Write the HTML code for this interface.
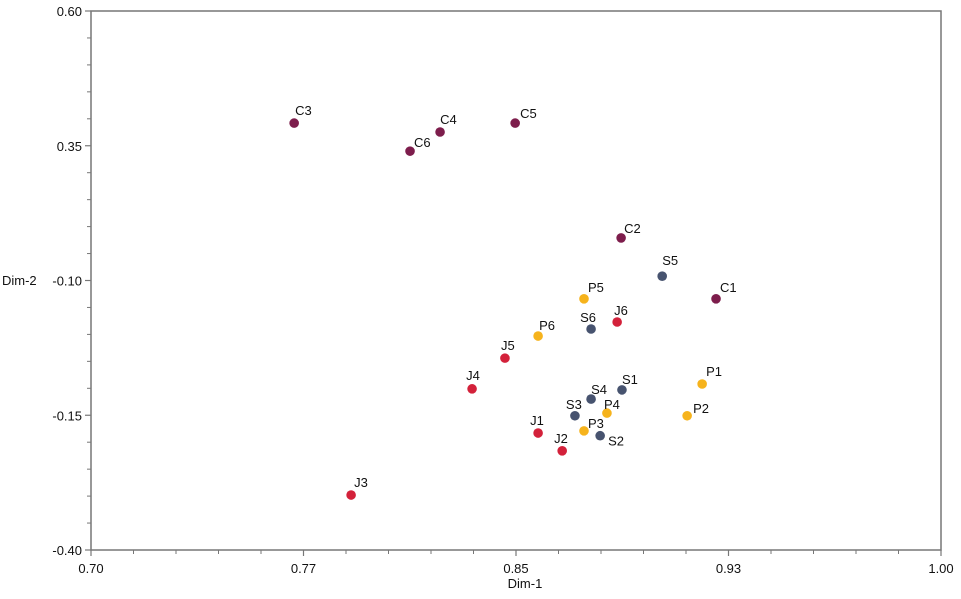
<!DOCTYPE html>
<html><head><meta charset="utf-8"><style>
body{margin:0;background:#fff;}
svg text{font-family:"Liberation Sans",sans-serif;}
</style></head><body>
<svg id="chart" width="961" height="594" viewBox="0 0 961 594" xmlns="http://www.w3.org/2000/svg">
<rect x="91" y="11" width="850" height="539" fill="none" stroke="#777" stroke-width="1.5"/>
<g id="axes"></g>
<g id="marks"></g>
<text x="525" y="588" font-size="13" text-anchor="middle" fill="#111">Dim-1</text>
<text x="2" y="285" font-size="13" fill="#111">Dim-2</text>
</svg>
<script>
const labels = ["C3","C4","C6","C5","C2","S5","C1","P5","J6","S6","P6","J5","J4","P1","S1","S4","P4","S3","P2","J1","P3","S2","J2","J3"];
const xVals = [0.7717,0.8232,0.8126,0.8497,0.8871,0.9016,0.9206,0.8740,0.8857,0.8765,0.8578,0.8461,0.8345,0.9157,0.8874,0.8765,0.8821,0.8708,0.9104,0.8578,0.8740,0.8797,0.8663,0.7918];
const yVals = [0.392,0.3755,0.340,0.392,0.179,0.108,0.066,0.066,0.023,0.010,-0.003,-0.044,-0.101,-0.092,-0.103,-0.120,-0.146,-0.151,-0.151,-0.183,-0.179,-0.188,-0.216,-0.298];
const xTickVals = [0.70,0.775,0.85,0.925,1.00];
const xTickLabels = ["0.70","0.77","0.85","0.93","1.00"];
const yTickVals = [-0.40,-0.15,0.10,0.35,0.60];
const yTickLabels = ["-0.40","-0.15","-0.10","0.35","0.60"];
const colors = {C:"#7d1d4c",J:"#d3213a",S:"#47536f",P:"#f6b31c"};
const lblOff = {C3:[1,-8],C4:[0,-8],C6:[4,-4],C5:[5,-5],C2:[3,-5],S5:[0,-11],C1:[4,-7],P5:[4,-7],J6:[-3,-7],S6:[-11,-7],P6:[1,-6],J5:[-4,-8],J4:[-6,-9],P1:[4,-8],S1:[0,-6],S4:[0,-5],P4:[-3,-4],S3:[-9,-7],P2:[6,-3],J1:[-8,-8],P3:[4,-3],S2:[8,10],J2:[-8,-8],J3:[3,-8]};
const X0=91,X1=941,Y0=550,Y1=11;
function sx(v){return X0+(v-0.70)/(0.30)*(X1-X0);}
function sy(v){return Y0-(v+0.40)/1.0*(Y0-Y1);}
const NS="http://www.w3.org/2000/svg";
const axes=document.getElementById('axes'), marks=document.getElementById('marks');
function mk(tag,attrs,parent){const e=document.createElementNS(NS,tag);for(const k in attrs)e.setAttribute(k,attrs[k]);parent.appendChild(e);return e;}
// x ticks
for(let i=0;i<xTickVals.length;i++){
  const x=sx(xTickVals[i]);
  const t=mk('line',{x1:x,x2:x,y1:Y0,y2:Y0+6,stroke:'#777','stroke-width':1.2},axes);
  
  
  const l=mk('text',{x:x,y:Y0+23,'font-size':13,'text-anchor':'middle',fill:'#111'},axes);
  l.textContent=xTickLabels[i];
  
  
  if(i<xTickVals.length-1){
    const step=(xTickVals[i+1]-xTickVals[i])/5;
    for(let j=1;j<5;j++){const mx=sx(xTickVals[i]+step*j);
      const m=mk('line',{x1:mx,x2:mx,y1:Y0,y2:Y0+4,stroke:'#777','stroke-width':1},axes);
      
      }
  }
}
for(let i=0;i<yTickVals.length;i++){
  const y=sy(yTickVals[i]);
  const t=mk('line',{x1:X0-6,x2:X0,y1:y,y2:y,stroke:'#777','stroke-width':1.2},axes);
  
  
  const l=mk('text',{x:X0-9,y:y+5,'font-size':13,'text-anchor':'end',fill:'#111'},axes);
  l.textContent=yTickLabels[i];
  
  
  if(i<yTickVals.length-1){
    const step=(yTickVals[i+1]-yTickVals[i])/5;
    for(let j=1;j<5;j++){const my=sy(yTickVals[i]+step*j);
      const m=mk('line',{x1:X0-4,x2:X0,y1:my,y2:my,stroke:'#777','stroke-width':1},axes);
      
      }
  }
}
for(let i=0;i<labels.length;i++){
  const x=sx(xVals[i]),y=sy(yVals[i]);
  const c=mk('circle',{cx:x,cy:y,r:4.8,fill:colors[labels[i][0]]},marks);
  
  
  const o=lblOff[labels[i]]||[2,-8];
  const t=mk('text',{x:x+o[0],y:y+o[1],'font-size':13,fill:'#111'},marks);
  t.textContent=labels[i];
  
  
}
</script>
</body></html>
